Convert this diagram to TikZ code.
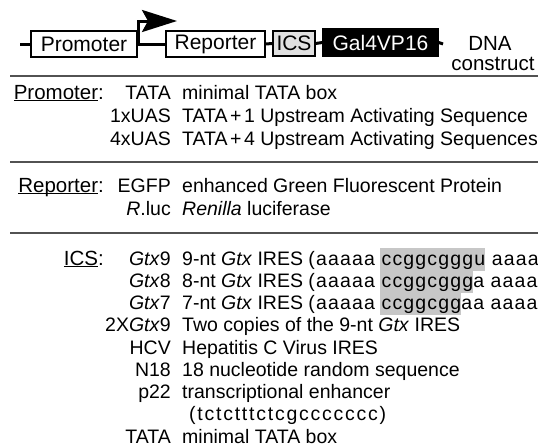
\documentclass[tikz,border=0pt]{standalone}
\usepackage{fontspec}
\setmainfont{Liberation Sans}
\usetikzlibrary{arrows.meta}

\definecolor{hlgray}{gray}{0.78}
\definecolor{icsgray}{gray}{0.88}
\definecolor{rulegray}{gray}{0.32}

% underline that sits just below the baseline
\newcommand\undl[1]{\setbox0=\hbox{#1}\rlap{\rule[-2.2pt]{\wd0}{0.9pt}}\box0\relax}
% grey band behind a stretch of sequence, one table row high
\newcommand\hlseq[1]{\setbox0=\hbox{#1}\rlap{\kern-2pt\textcolor{hlgray}{\rule[-5.5pt]{\dimexpr\wd0+2pt\relax}{22.25pt}}}\box0\relax}
% nucleotide sequences are set slightly letter-spaced
\newcommand\seqA{\addfontfeature{LetterSpace=6}}
\newcommand\seqB{\addfontfeature{LetterSpace=9}}
\newcommand\tabfont{\fontsize{19.5}{19.5}\selectfont}
\newcommand\hdrfont{\fontsize{20.5}{20.5}\selectfont}
\newcommand\boxfont{\fontsize{21}{21}\selectfont}

\begin{document}
\begin{tikzpicture}[x=1pt,y=-1pt,
  dna/.style={line width=3pt},
  part/.style={draw, line width=1.1pt, inner sep=0pt, font=\boxfont, fill=white},
  sep/.style={rulegray, line width=2pt},
  hdr/.style={anchor=base east, inner sep=0pt, font=\hdrfont},
  lab/.style={anchor=base east, inner sep=0pt, font=\tabfont},
  desc/.style={anchor=base west, inner sep=0pt, font=\tabfont},
]
\useasboundingbox (0,0) rectangle (538,447);

% ---- DNA construct ----
\coordinate (dnaL) at (20,44);
\coordinate (dnaR) at (443,44);
\node[part, minimum width=106pt, minimum height=26pt] (prom) at (84,44) {Promoter};
\node[part, minimum width=99pt, minimum height=26pt] (rep) at (215.5,44) {Reporter};
\node[part, fill=icsgray, minimum width=42pt, minimum height=25pt] (ics) at (294,43.5) {ICS};
\node[part, fill=black, text=white, minimum width=115pt, minimum height=27pt] (gal) at (380.5,42.5) {Gal4VP16};

\draw[dna] (dnaL) -- (prom.west);
\draw[dna] (prom.east) -- (rep.west);
\draw[dna] (rep.east) -- (ics.west);
\draw[dna] (ics.east) -- (gal.west);
\draw[dna] (gal.east) -- (dnaR);

% transcription start arrow
\coordinate (tss) at (177,21);
\draw[dna, line join=miter, -{Stealth[length=35pt,width=22pt,inset=6pt]}] ([xshift=1pt]prom.east) |- (tss);

\node[anchor=base, inner sep=0pt, font=\fontsize{20.5}{20.5}\selectfont] (dnaT) at (490,50.5) {DNA};
\node[anchor=base, inner sep=0pt, font=\fontsize{20.5}{20.5}\selectfont] (conT) at (493,70) {construct};

% ---- separators ----
\draw[sep] (10,76) -- (538,76);
\draw[sep] (10,162) -- (538,162);
\draw[sep] (10,233) -- (538,233);

% ---- Promoter ----
\node[hdr] (hP) at (104,99) {\undl{Promoter}:};
\node[lab] (p1) at (171,99) {TATA};
\node[desc] (d1) at (182,99) {minimal TATA box};
\node[lab] (p2) at (171,122) {1xUAS};
\node[desc] (d2) at (182,122) {TATA\kern2.5pt+\kern2.5pt1 Upstream Activating Sequence};
\node[lab] (p3) at (171,145) {4xUAS};
\node[desc] (d3) at (182,145) {TATA\kern2.5pt+\kern2.5pt4 Upstream Activating Sequences};

% ---- Reporter ----
\node[hdr] (hR) at (104,192) {\undl{Reporter}:};
\node[lab] (r1) at (171,192) {EGFP};
\node[desc] (e1) at (182,192) {enhanced Green Fluorescent Protein};
\node[lab] (r2) at (171,215) {\textit{R}.luc};
\node[desc] (e2) at (182,215) {\textit{Renilla} luciferase};

% ---- ICS ----
\node[hdr] (hI) at (104,265) {\undl{ICS}:};
\node[lab] (i1) at (171,265) {\textit{Gtx}9};
\node[desc] (c1) at (182,265) {9-nt \textit{Gtx} IRES {\seqA(aaaaa \hlseq{ccggcgggu} aaaa}};
\node[lab] (i2) at (171,287.25) {\textit{Gtx}8};
\node[desc] (c2) at (182,287.25) {8-nt \textit{Gtx} IRES {\seqA(aaaaa \hlseq{ccggcggg}a aaaa}};
\node[lab] (i3) at (171,309.5) {\textit{Gtx}7};
\node[desc] (c3) at (182,309.5) {7-nt \textit{Gtx} IRES {\seqA(aaaaa \hlseq{ccggcgg}aa aaaa}};
\node[lab] (i4) at (171,331.75) {2X\textit{Gtx}9};
\node[desc] (c4) at (182,331.75) {Two copies of the 9-nt \textit{Gtx} IRES};
\node[lab] (i5) at (171,354) {HCV};
\node[desc] (c5) at (182,354) {Hepatitis C Virus IRES};
\node[lab] (i6) at (171,376.25) {N18};
\node[desc] (c6) at (182,376.25) {18 nucleotide random sequence};
\node[lab] (i7) at (171,398.5) {p22};
\node[desc] (c7) at (182,398.5) {transcriptional enhancer};
\node[desc] (c7b) at (189,420.75) {\seqB(tctctttctcgccccccc)};
\node[lab] (i8) at (171,443) {TATA};
\node[desc] (c8) at (182,443) {minimal TATA box};
\end{tikzpicture}
\end{document}
